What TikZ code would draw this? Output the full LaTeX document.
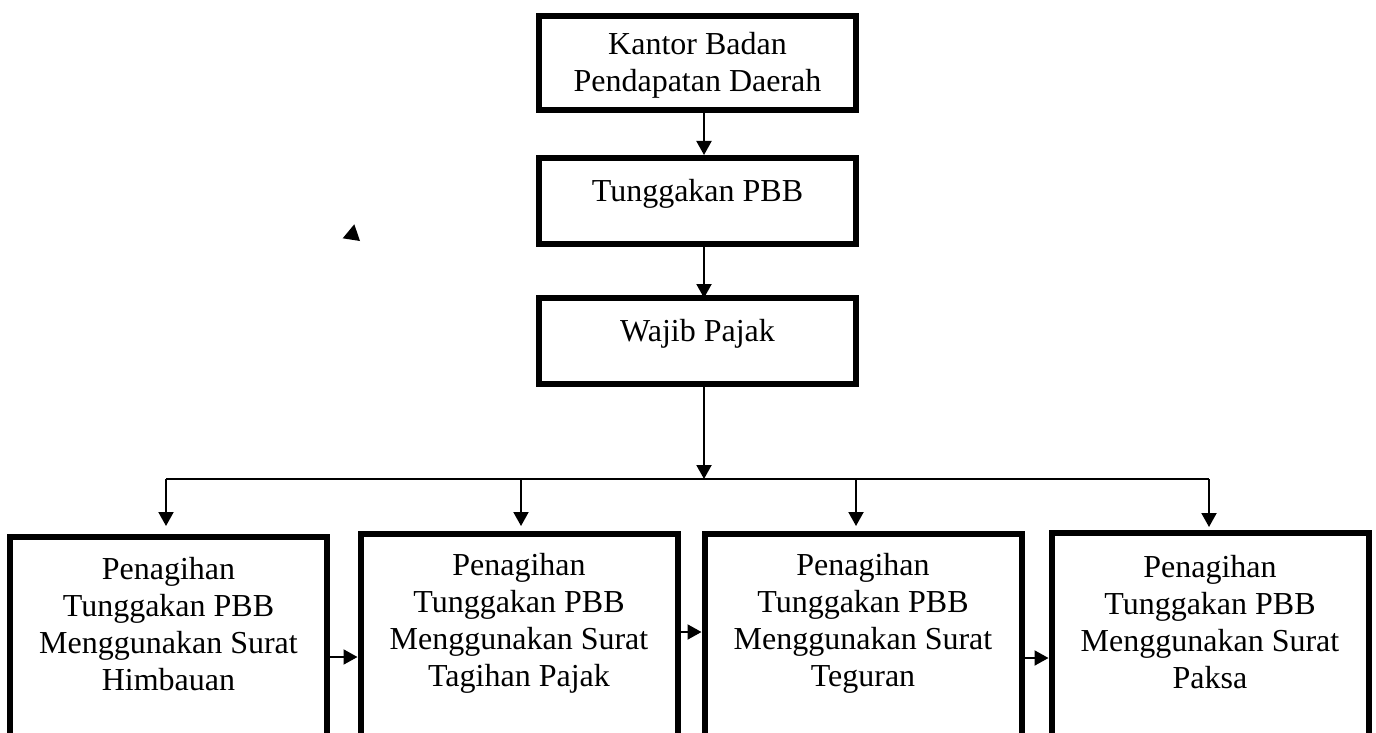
\documentclass[tikz,border=0pt]{standalone}
\usepackage{fontspec}
\setmainfont{Liberation Serif}
\usetikzlibrary{arrows.meta}

\begin{document}
\begin{tikzpicture}[x=0.5pt, y=-0.5pt,
    kotak/.style={draw, line width=3pt, rectangle, anchor=north,
        inner xsep=0pt, inner ysep=0pt, outer sep=1.5pt,
        text width=158.5pt, align=flush center,
        font=\fontsize{16pt}{18.5pt}\selectfont},
    panah/.style={line width=1pt, -{Triangle[length=7pt,width=7.5pt]}},
    garis/.style={line width=0.9pt}]

        \useasboundingbox (0,0) rectangle (1376,733);
        \clip (0,0) rectangle (1376,733);

        % --- Kotak atas ---
        \node[kotak, text height=19.5pt, text depth=27.5pt] (kantor) at (697.5,13)
            {Kantor Badan\\Pendapatan Daerah};
        \node[kotak, text height=21.5pt, text depth=21.5pt] (tunggakan) at (697.5,155)
            {Tunggakan PBB};
        \node[kotak, text height=21.5pt, text depth=21.5pt] (wajib) at (697.5,295)
            {Wajib Pajak};

        % --- Kotak penagihan (terpotong di bawah) ---
        \node[kotak, text height=21pt, text depth=90pt] (himbauan) at (168.5,534)
            {Penagihan\\Tunggakan PBB\\Menggunakan Surat\\Himbauan};
        \node[kotak, text height=20.5pt, text depth=90pt] (tagihan) at (519,531)
            {Penagihan\\Tunggakan PBB\\Menggunakan Surat\\Tagihan Pajak};
        \node[kotak, text height=20.5pt, text depth=90pt] (teguran) at (863,531)
            {Penagihan\\Tunggakan PBB\\Menggunakan Surat\\Teguran};
        \node[kotak, text height=22pt, text depth=90pt] (paksa) at (1210,530)
            {Penagihan\\Tunggakan PBB\\Menggunakan Surat\\Paksa};

        % --- Titik bantu ---
        \coordinate (poros) at (704,0);
        \coordinate (cabang) at (704,479);
        \coordinate (tA) at (166,479);
        \coordinate (tB) at (521,479);
        \coordinate (tC) at (856,479);
        \coordinate (tD) at (1209,479);
        \coordinate (lvlA) at (0,657);
        \coordinate (lvlB) at (0,632);
        \coordinate (lvlC) at (0,658);

        % --- Panah vertikal ---
        \draw[panah] (kantor.south -| poros) -- (tunggakan.north -| poros);
        \draw[panah, shorten >=-1.5pt] (tunggakan.south -| poros) -- (wajib.north -| poros);
        \draw[panah] (wajib.south -| poros) -- (cabang);

        % --- Cabang ke empat kotak ---
        \draw[garis] (tA) -- (tD);
        \draw[panah, shorten >=4pt] (tA) -- (himbauan.north -| tA);
        \draw[panah, shorten >=2.5pt] (tB) -- (tagihan.north -| tB);
        \draw[panah, shorten >=2.5pt] (tC) -- (teguran.north -| tC);
        \draw[panah, shorten >=1.5pt] (tD) -- (paksa.north -| tD);

        % --- Panah mendatar ---
        \draw[panah] (himbauan.east |- lvlA) -- (tagihan.west |- lvlA);
        \draw[panah] (tagihan.east |- lvlB) -- (teguran.west |- lvlB);
        \draw[panah] (teguran.east |- lvlC) -- (paksa.west |- lvlC);

        % --- Segitiga kecil ---
        \fill (342.7,238.3) -- (354.3,224.3) -- (360,241) -- cycle;

    \end{tikzpicture}
\end{document}
